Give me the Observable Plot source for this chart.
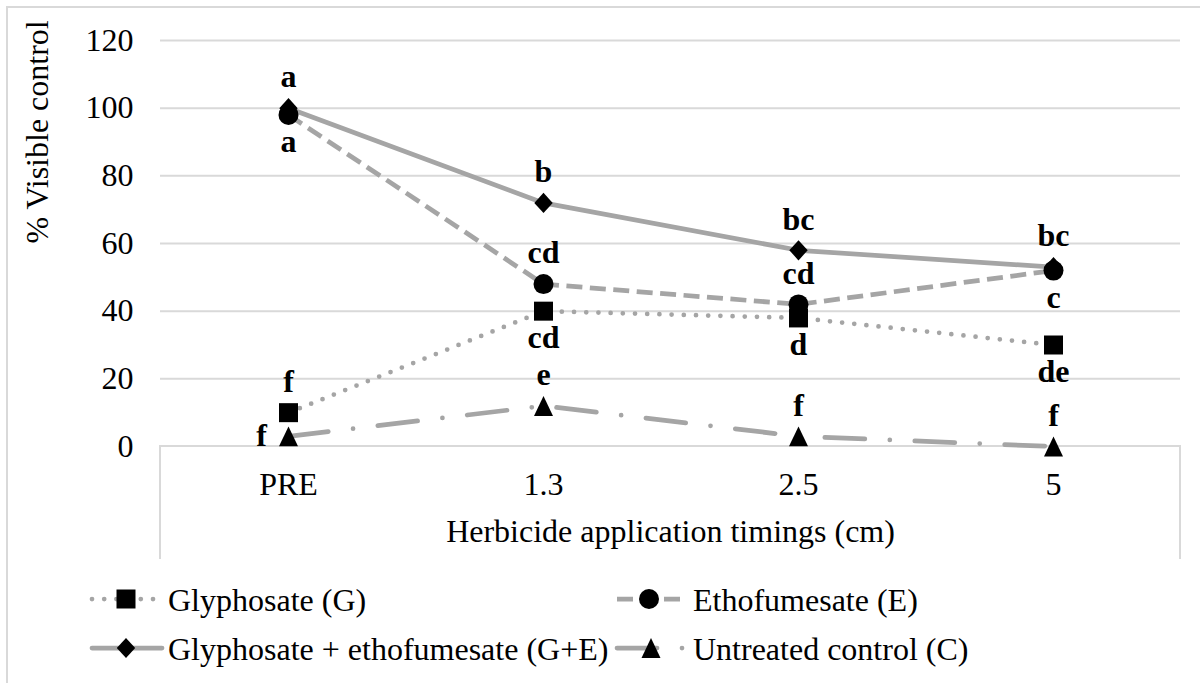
<!DOCTYPE html>
<html>
<head>
<meta charset="utf-8">
<script src="https://cdn.jsdelivr.net/npm/d3@7"></script>
<script src="https://cdn.jsdelivr.net/npm/@observablehq/plot@0.6"></script>
<style>
html, body { margin: 0; padding: 0; background: #fff; }
#wrap { position: relative; width: 1200px; height: 683px; overflow: hidden; font-family: "Liberation Serif", "Times New Roman", serif; }
#border { position: absolute; left: 6px; top: 6px; width: 1400px; height: 900px; border-left: 2px solid #d9d9d9; border-top: 2px solid #d9d9d9; }
#chart { position: absolute; left: 0; top: 0; }
.legtext { position: absolute; height: 40px; line-height: 40px; font-size: 32px; white-space: nowrap; color: #000; }
.legsw { position: absolute; overflow: visible; }
</style>
</head>
<body>
<div id="wrap">
  <div id="border"></div>
  <div id="chart"></div>
  <div id="legend"></div>
</div>
<script>
// ---------- data ----------
const categories = ["PRE", "1.3", "2.5", "5"];
const seriesNames = ["Glyphosate (G)", "Ethofumesate (E)", "Glyphosate + ethofumesate (G+E)", "Untreated control (C)"];
const glyphosate = [10, 40, 38, 30];
const ethofumesate = [98, 48, 42, 52];
const glyphosateEthofumesate = [100, 72, 58, 53];
const untreatedControl = [3, 12, 3, 0];
const glyphosateLetters = ["f", "cd", "d", "de"];
const ethofumesateLetters = ["a", "cd", "cd", "c"];
const glyphosateEthofumesateLetters = ["a", "b", "bc", "bc"];
const untreatedControlLetters = ["f", "e", "f", "f"];
const yTicks = [0, 20, 40, 60, 80, 100, 120];
const xTitle = "Herbicide application timings (cm)";
const yTitle = "% Visible control";

// letter placement relative to the marker
const glyphosateSides = ["above", "below", "below", "below"];
const ethofumesateSides = ["below", "above", "above", "below"];
const glyphosateEthofumesateSides = ["above", "above", "above", "above"];
const untreatedControlSides = ["left", "above", "above", "above"];

// ---------- styles ----------
const fontStack = "'Liberation Serif', 'Times New Roman', serif";
const lineColor = "#a5a5a5";
const lineWidth = 4.75;
const symSquare = { draw(ctx, size) { const h = Math.sqrt(size / Math.PI); ctx.rect(-h, -h, 2 * h, 2 * h); } };
const symCircle = { draw(ctx, size) { const r = Math.sqrt(size / Math.PI); ctx.moveTo(r, 0); ctx.arc(0, 0, r, 0, 2 * Math.PI); } };
const symDiamond = { draw(ctx, size) { const h = Math.sqrt(size / Math.PI); ctx.moveTo(0, -h * 1.1); ctx.lineTo(h, 0); ctx.lineTo(0, h * 1.1); ctx.lineTo(-h, 0); ctx.closePath(); } };
const symTriangle = { draw(ctx, size) { const h = Math.sqrt(size / Math.PI); ctx.moveTo(0, -h * 1.05); ctx.lineTo(h, h * 1.05); ctx.lineTo(-h, h * 1.05); ctx.closePath(); } };
const seriesStyles = [
  { dash: "0 12.2", cap: "round", symbol: symSquare, r: 9.5 },
  { dash: "16 7.5", cap: "butt", symbol: symCircle, r: 10 },
  { dash: null, cap: "round", symbol: symDiamond, r: 9.2 },
  { dash: "40 25 0 25", cap: "round", symbol: symTriangle, r: 9.5 }
];

// ---------- build table ----------
const valuesBySeries = [glyphosate, ethofumesate, glyphosateEthofumesate, untreatedControl];
const lettersBySeries = [glyphosateLetters, ethofumesateLetters, glyphosateEthofumesateLetters, untreatedControlLetters];
const sidesBySeries = [glyphosateSides, ethofumesateSides, glyphosateEthofumesateSides, untreatedControlSides];
const rows = [];
seriesNames.forEach((s, i) => categories.forEach((c, j) => rows.push({
  series: s, si: i, cat: c, value: valuesBySeries[i][j], letter: lettersBySeries[i][j], side: sidesBySeries[i][j]
})));

const boxDepth = 113;
function axisBox(index, scales, values, dims) {
  const x0 = dims.marginLeft, x1 = dims.width - dims.marginRight, y0 = dims.height - dims.marginBottom;
  return d3.create("svg:path")
    .attr("d", `M${x0},${y0 + boxDepth}V${y0}H${x1}V${y0 + boxDepth}`)
    .attr("fill", "none").attr("stroke", "#d9d9d9").attr("stroke-width", 2)
    .node();
}

const marks = [
  Plot.ruleY(yTicks.filter(d => d > 0), { stroke: "#d9d9d9", strokeWidth: 2 }),
  axisBox,
  Plot.axisY({ ticks: yTicks, tickSize: 0, tickPadding: 27, label: null, fontSize: 32 }),
  Plot.axisX({ tickSize: 0, tickPadding: 26, label: null, fontSize: 32 }),
  Plot.text([xTitle], { frameAnchor: "bottom", dy: 95, fontSize: 32 }),
  Plot.text([yTitle], { frameAnchor: "left", rotate: -90, dx: -123, fontSize: 32 })
];
seriesNames.forEach((s, i) => {
  const st = seriesStyles[i];
  marks.push(Plot.line(rows.filter(d => d.si === i), {
    x: "cat", y: "value", stroke: lineColor, strokeWidth: lineWidth,
    strokeDasharray: st.dash || undefined, strokeLinecap: st.cap, strokeLinejoin: "round"
  }));
});
seriesNames.forEach((s, i) => {
  const st = seriesStyles[i];
  marks.push(Plot.dot(rows.filter(d => d.si === i), {
    x: "cat", y: "value", symbol: st.symbol, r: st.r, fill: "#000", stroke: "none"
  }));
});
marks.push(
  Plot.text(rows.filter(d => d.side === "above"), { x: "cat", y: "value", text: "letter", dy: -31, fontWeight: "bold", fontSize: 32 }),
  Plot.text(rows.filter(d => d.side === "below"), { x: "cat", y: "value", text: "letter", dy: 27, fontWeight: "bold", fontSize: 32 }),
  Plot.text(rows.filter(d => d.side === "left"), { x: "cat", y: "value", text: "letter", dx: -27, dy: -1, fontWeight: "bold", fontSize: 32 })
);

const chart = Plot.plot({
  width: 1200,
  height: 570,
  marginTop: 40,
  marginBottom: 124,
  marginLeft: 160,
  marginRight: 20,
  x: { type: "point", domain: categories, padding: 0.5 },
  y: { domain: [0, 120] },
  style: { fontFamily: fontStack, fontSize: "32px", color: "#000", background: "transparent", overflow: "visible" },
  marks
});
document.getElementById("chart").appendChild(chart);

// ---------- legend ----------
const legendLayout = [
  { si: 0, sx: 90, sw: 72, tx: 168, cy: 600 },
  { si: 1, sx: 615, sw: 68, tx: 693, cy: 600 },
  { si: 2, sx: 90, sw: 72, tx: 168, cy: 649 },
  { si: 3, sx: 615, sw: 72, tx: 693, cy: 649 }
];
const legend = d3.select("#legend");
legendLayout.forEach(L => {
  const st = seriesStyles[L.si];
  const svg = legend.append("svg").attr("class", "legsw")
    .style("left", L.sx + "px").style("top", (L.cy - 20) + "px")
    .attr("width", L.sw).attr("height", 40);
  svg.append("line").attr("x1", 2).attr("x2", L.sw).attr("y1", 19).attr("y2", 19)
    .attr("stroke", lineColor).attr("stroke-width", lineWidth)
    .attr("stroke-dasharray", st.dash).attr("stroke-linecap", st.cap);
  svg.append("path").attr("transform", `translate(${L.sw / 2},19)`)
    .attr("d", d3.symbol(st.symbol, Math.PI * st.r * st.r)()).attr("fill", "#000");
  legend.append("div").attr("class", "legtext")
    .style("left", L.tx + "px").style("top", (L.cy - 20) + "px")
    .text(seriesNames[L.si]);
});
</script>
</body>
</html>
